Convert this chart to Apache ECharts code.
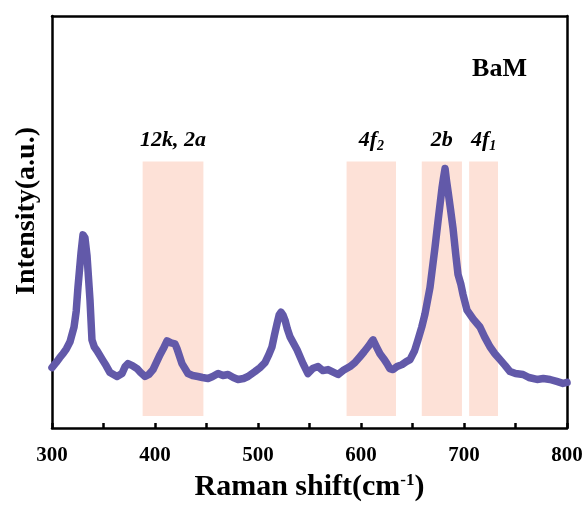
<!DOCTYPE html>
<html>
<head>
<meta charset="utf-8">
<script src="https://cdn.jsdelivr.net/npm/echarts@6/dist/echarts.min.js"></script>
<style>html,body{margin:0;padding:0;background:#fff}#c{width:586px;height:507px}</style>
</head>
<body>
<div id="c"></div>
<script>
const ramanShift = [300.0,303.9,307.5,310.7,314.0,317.5,321.4,323.5,325.2,328.2,330.1,332.0,334.0,336.9,338.8,341.0,343.7,349.5,352.5,356.3,363.1,368.0,371.0,373.8,378.0,382.5,386.0,390.3,394.0,398.1,404.9,408.0,411.7,415.5,419.4,421.4,426.2,432.0,436.5,441.7,446.0,451.5,456.0,461.2,466.0,470.9,476.0,480.6,486.0,490.3,497.1,502.0,506.8,510.5,513.6,516.0,518.4,520.5,522.3,524.3,526.2,528.5,531.1,537.9,543.7,548.5,553.0,558.3,563.0,568.0,572.0,577.7,582.5,589.3,594.0,599.0,603.0,606.8,609.5,611.7,615.0,618.4,622.0,625.2,628.0,631.1,635.0,639.8,644.0,647.6,652.0,655.3,659.0,662.1,667.0,671.8,674.8,678.6,680.0,681.6,683.0,684.5,687.0,689.3,692.0,694.2,697.0,699.0,702.9,709.0,715.5,720.0,725.2,730.0,735.0,740.0,744.7,750.0,757.3,763.0,770.9,777.0,783.5,790.0,796.1,800.0];
const intensity = [61,66,71,75,80,87,102,118,142,177,195,192,174,129,89,82,78,68,63,56,52,55,62,65,63,60,56,52,54,59,74,80,88,86,85,80,65,55,53,52,51,50,52,55,53,54,51,49,50,52,57,61,66,74,82,94,105,114,117,114,109,100,92,79,65,55,60,62,58,59,57,54,58,62,66,72,77,82,86,89,82,75,70,65,60,59,62,64,67,69,78,89,102,115,142,182,209,242,252,262,250,239,220,202,175,155,145,135,119,110,102,92,82,75,69,63,57,55,54,51,49,50,49,47,45,46];
const bandStart = [388, 586, 659, 705];
const bandEnd = [447, 634, 698, 733];
const bandLabels = ['{b|12k, 2a}', '{b|4f}{s|2}', '{b|2b}', '{b|4f}{s|1}'];
const xTicks = [300, 400, 500, 600, 700, 800];
const sampleName = 'BaM';

const serif = "'Times New Roman', 'Liberation Serif', serif";
const chart = echarts.init(document.getElementById('c'), null, {renderer: 'canvas'});
const data = ramanShift.map((x, i) => [x, intensity[i]]);
const areas = bandStart.map((s, i) => [
  {xAxis: s, yAxis: 12, name: bandLabels[i], label: {formatter: bandLabels[i]}},
  {xAxis: bandEnd[i], yAxis: 269}
]);
const richLabel = {
  b: {fontFamily: serif, fontWeight: 'bold', fontStyle: 'italic', fontSize: 22, color: '#000', lineHeight: 26, verticalAlign: 'middle'},
  s: {fontFamily: serif, fontWeight: 'bold', fontStyle: 'italic', fontSize: 14, color: '#000', lineHeight: 9, verticalAlign: 'bottom'}
};
chart.setOption({
  animation: false,
  backgroundColor: '#fff',
  title: {text: sampleName, right: 54, top: 51, textStyle: {fontFamily: serif, fontWeight: 'bold', fontSize: 26, color: '#000'}},
  grid: {left: 52, right: 19, top: 16, bottom: 75},
  xAxis: [{
    type: 'value', min: 300, max: 800, interval: 100,
    axisLine: {show: true, lineStyle: {color: '#000', width: 2.5}},
    axisTick: {show: true, inside: true, length: 5, lineStyle: {color: '#000', width: 2.5}},
    minorTick: {show: true, splitNumber: 2, length: 5, lineStyle: {color: '#000', width: 2.5}},
    splitLine: {show: false},
    axisLabel: {margin: 17, fontFamily: serif, fontWeight: 'bold', fontSize: 21, color: '#000',
      formatter: v => xTicks.includes(v) ? String(v) : ''},
    name: 'Raman shift(cm{sup|-1})', nameLocation: 'middle', nameGap: 44,
    nameTextStyle: {fontFamily: serif, fontWeight: 'bold', fontSize: 30, color: '#000', lineHeight: 30,
      rich: {sup: {fontFamily: serif, fontWeight: 'bold', fontSize: 17, color: '#000', lineHeight: 17, verticalAlign: 'top'}}}
  }, {
    type: 'value', position: 'top', min: 300, max: 800,
    axisLine: {show: true, onZero: false, lineStyle: {color: '#000', width: 2.5}},
    axisTick: {show: false}, axisLabel: {show: false}, splitLine: {show: false}
  }],
  yAxis: [{
    type: 'value', min: 0, max: 416,
    axisLine: {show: true, onZero: false, lineStyle: {color: '#000', width: 2.5}},
    axisTick: {show: false}, axisLabel: {show: false}, splitLine: {show: false},
    name: 'Intensity(a.u.)', nameLocation: 'middle', nameGap: 11,
    nameTextStyle: {fontFamily: serif, fontWeight: 'bold', fontSize: 28, color: '#000', padding: [0, 0, 0, 22]}
  }, {
    type: 'value', position: 'right', min: 0, max: 416,
    axisLine: {show: true, onZero: false, lineStyle: {color: '#000', width: 2.5}},
    axisTick: {show: false}, axisLabel: {show: false}, splitLine: {show: false}
  }],
  series: [{
    type: 'line', data: data, showSymbol: false, smooth: false,
    lineStyle: {color: '#6259a9', width: 7.5, cap: 'round', join: 'round'},
    itemStyle: {color: '#6259a9'},
    markArea: {
      silent: true,
      itemStyle: {color: '#fde1d7', opacity: 1},
      label: {show: true, position: 'top', distance: 8, rich: richLabel},
      data: areas
    },
    z: 3
  }]
});
</script>
</body>
</html>
